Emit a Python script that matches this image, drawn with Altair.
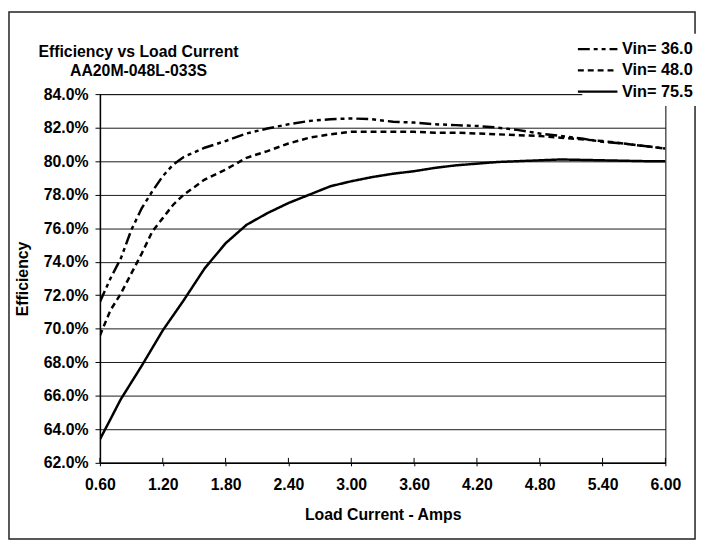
import altair as alt
import pandas as pd

series_labels = ["Vin= 36.0", "Vin= 48.0", "Vin= 75.5"]

current_36 = [0.6, 0.7, 0.8, 0.9, 1.0, 1.1, 1.2, 1.3, 1.4, 1.6, 1.8, 2.0, 2.2, 2.4, 2.6, 2.8,
              3.0, 3.2, 3.4, 3.6, 3.8, 4.0, 4.2, 4.4, 4.6, 4.8, 5.0, 5.2, 5.4, 5.6, 5.8, 6.0]
eff_36 = [71.6, 73.0, 74.2, 75.9, 77.2, 78.2, 79.1, 79.8, 80.25, 80.8, 81.2, 81.65, 81.95, 82.2,
          82.4, 82.5, 82.55, 82.5, 82.35, 82.3, 82.2, 82.15, 82.1, 82.0, 81.85, 81.65, 81.5,
          81.35, 81.15, 81.05, 80.9, 80.75]

current_48 = [0.6, 0.7, 0.8, 0.9, 1.0, 1.1, 1.2, 1.3, 1.4, 1.6, 1.8, 2.0, 2.2, 2.4, 2.6, 2.8,
              3.0, 3.2, 3.4, 3.6, 3.8, 4.0, 4.2, 4.4, 4.6, 4.8, 5.0, 5.2, 5.4, 5.6, 5.8, 6.0]
eff_48 = [69.6, 71.1, 72.1, 73.3, 74.5, 75.8, 76.6, 77.4, 78.0, 78.9, 79.5, 80.2, 80.6, 81.05,
          81.4, 81.6, 81.75, 81.75, 81.75, 81.75, 81.7, 81.7, 81.65, 81.6, 81.55, 81.5, 81.4,
          81.3, 81.2, 81.05, 80.9, 80.75]

current_75 = [0.6, 0.8, 1.0, 1.2, 1.4, 1.6, 1.8, 2.0, 2.2, 2.4, 2.6, 2.8, 3.0, 3.2, 3.4, 3.6,
              3.8, 4.0, 4.2, 4.4, 4.8, 5.0, 5.4, 5.8, 6.0]
eff_75 = [63.4, 65.8, 67.8, 69.9, 71.7, 73.6, 75.1, 76.2, 76.9, 77.5, 78.0, 78.5, 78.8, 79.05,
          79.25, 79.4, 79.6, 79.75, 79.85, 79.95, 80.05, 80.1, 80.05, 80.0, 80.0]

x_ticks = [0.6, 1.2, 1.8, 2.4, 3.0, 3.6, 4.2, 4.8, 5.4, 6.0]
y_ticks = [62, 64, 66, 68, 70, 72, 74, 76, 78, 80, 82, 84]

rows = []
for label, xs, ys in zip(series_labels, [current_36, current_48, current_75], [eff_36, eff_48, eff_75]):
    for xv, yv in zip(xs, ys):
        rows.append({"I": xv, "eff": yv, "series": label})
df = pd.DataFrame(rows)

W, H = 572, 373
PL, PT, PR, PB = 93, 84, 33, 79
FONT = "Liberation Sans"

x_enc = alt.X(
    "I:Q",
    scale=alt.Scale(domain=[0.6, 6.0], nice=False, zero=False),
    axis=alt.Axis(values=x_ticks, format=".2f", title="Load Current - Amps", grid=False,
                  tickSize=3, labelPadding=11, titlePadding=14, labelFlush=False,
                  domainWidth=1.5),
)
y_enc = alt.Y(
    "eff:Q",
    scale=alt.Scale(domain=[62, 84], nice=False, zero=False),
    axis=alt.Axis(values=y_ticks, labelExpr="format(datum.value, '.1f') + '%'",
                  title="Efficiency", grid=True, gridColor="#1a1a1a", gridWidth=1,
                  tickSize=5, labelPadding=7, titlePadding=13, domainWidth=1.5),
)

lines = alt.Chart(df).mark_line(color="black", strokeWidth=2.5, clip=True).encode(
    x=x_enc,
    y=y_enc,
    strokeDash=alt.StrokeDash(
        "series:N",
        scale=alt.Scale(domain=series_labels, range=[[12, 4, 4, 4, 4, 4], [6, 4], [1, 0]]),
        legend=alt.Legend(
            orient="none", legendX=488, legendY=-61, title=None,
            symbolType="M-2.5,0H2.5", symbolSize=256, symbolStrokeWidth=2.5,
            symbolStrokeColor="black", symbolFillColor="black",
            labelFont=FONT, labelFontSize=16.5,
            labelFontWeight="bold", labelColor="black", labelOffset=15,
            rowPadding=3.5, fillColor="white", padding=6,
        ),
    ),
)

inner_ticks = alt.Chart(pd.DataFrame({"I": x_ticks})).mark_rule(color="black", strokeWidth=1).encode(
    x="I:Q",
    y=alt.value(H - 5),
    y2=alt.value(H),
)

frame = alt.Chart(alt.Data(values=[{}])).mark_rect(
    fillOpacity=0, stroke="#222222", strokeWidth=1.5
).encode(
    x=alt.value(-PL + 1), x2=alt.value(W + PR - 3),
    y=alt.value(-PT + 1), y2=alt.value(H + PB - 2),
)

chart = alt.layer(frame, lines, inner_ticks).properties(
    width=W,
    height=H,
    padding={"left": PL, "top": PT, "right": PR, "bottom": PB},
    autosize=alt.AutoSizeParams(type="none"),
    title=alt.TitleParams(
        text=["Efficiency vs Load Current", "AA20M-048L-033S"],
        anchor="start", align="center", dx=39, offset=-68, frame="group",
        font=FONT, fontSize=16, fontWeight="bold", color="black", lineHeight=19,
    ),
).configure_view(
    stroke="black", strokeWidth=1
).configure_axis(
    labelFont=FONT, labelFontSize=16, labelFontWeight="bold", labelColor="black",
    titleFont=FONT, titleFontSize=16, titleFontWeight="bold", titleColor="black",
    domainColor="black", tickColor="black",
)

chart.save("out.html", embed_options={"renderer": "svg", "actions": False})
